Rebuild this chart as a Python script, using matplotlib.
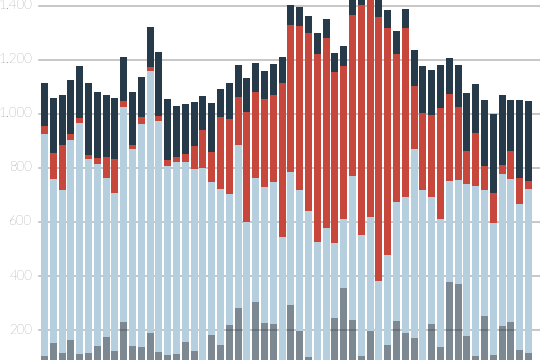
import numpy as np
import matplotlib
matplotlib.use("Agg")
import matplotlib.pyplot as plt

# segment heights per bar, bottom to top
gray = [104, 152, 115, 163, 111, 115, 141, 174, 122, 230, 141, 137, 189, 119, 107, 111,
        156, 122, 70, 181, 144, 219, 281, 70, 304, 226, 222, 70, 293, 196, 100, 70,
        70, 244, 356, 237, 104, 196, 70, 144, 233, 189, 170, 70, 222, 137, 378, 370,
        178, 104, 252, 107, 215, 230, 126, 115]
blue = [822, 607, 604, 741, 856, 718, 674, 589, 585, 796, 729, 826, 970, 855, 700, 711,
        666, 674, 730, 567, 578, 485, 604, 530, 459, 504, 526, 474, 492, 523, 541, 456,
        508, 278, 255, 533, 448, 423, 311, 334, 441, 504, 700, 649, 471, 474, 374, 386,
        563, 629, 467, 489, 563, 529, 541, 607]
red = [30, 97, 166, 22, 18, 15, 22, 78, 126, 22, 15, 26, 15, 19, 23, 19,
       30, 85, 141, 111, 267, 277, 178, 407, 318, 326, 322, 571, 545, 607, 659, 696,
       703, 634, 567, 597, 852, 811, 978, 841, 548, 626, 234, 285, 303, 411, 322, 270,
       122, 197, 88, 111, 33, 104, 96, 30]
navy = [159, 203, 185, 200, 193, 267, 244, 229, 226, 163, 196, 148, 148, 237, 226, 189,
        185, 163, 126, 182, 104, 134, 118, 126, 108, 103, 115, 96, 74, 70, 63, 78,
        71, 70, 74, 63, 36, 30, 71, 66, 85, 70, 133, 174, 167, 159, 133, 155,
        215, 181, 245, 293, 259, 189, 289, 296]
ticks = [200, 400, 600, 800, 1000, 1200, 1400]
tick_labels = ["200", "400", "600", "800", "1.000", "1.200", "1.400"]

C_NAVY = "#263a4a"
C_RED = "#c8473c"
C_BLUE = "#b5cfdf"
C_GRID = "#b8b8b8"
C_TEXT = "#3b4753"

fig = plt.figure(figsize=(5.4, 3.6), dpi=100)
ax = fig.add_axes([0, 0, 1, 1])
x = np.arange(len(gray))
w = 0.8

for t in ticks:
    ax.axhline(t, xmin=39 / 540, xmax=1, color=C_GRID, lw=1.1, zorder=0)

bottom = np.zeros(len(gray))
ax.bar(x, gray, w, bottom=bottom, color=C_NAVY, alpha=0.6, lw=0, zorder=2)
bottom += gray
ax.bar(x, blue, w, bottom=bottom, color=C_BLUE, lw=0, zorder=2)
bottom += blue
ax.bar(x, red, w, bottom=bottom, color=C_RED, lw=0, zorder=2)
bottom += red
ax.bar(x, navy, w, bottom=bottom, color=C_NAVY, lw=0, zorder=2)

ax.set_xlim(-5.06, 56.31)
ax.set_ylim(88.9, 1422.2)
ax.axis("off")

for t, lab in zip(ticks, tick_labels):
    ax.text(-1.4, t, lab, ha="right", va="center", fontsize=9.5,
            color=C_TEXT, family="Lato", fontweight="light")

fig.savefig("out.png", dpi=100)
